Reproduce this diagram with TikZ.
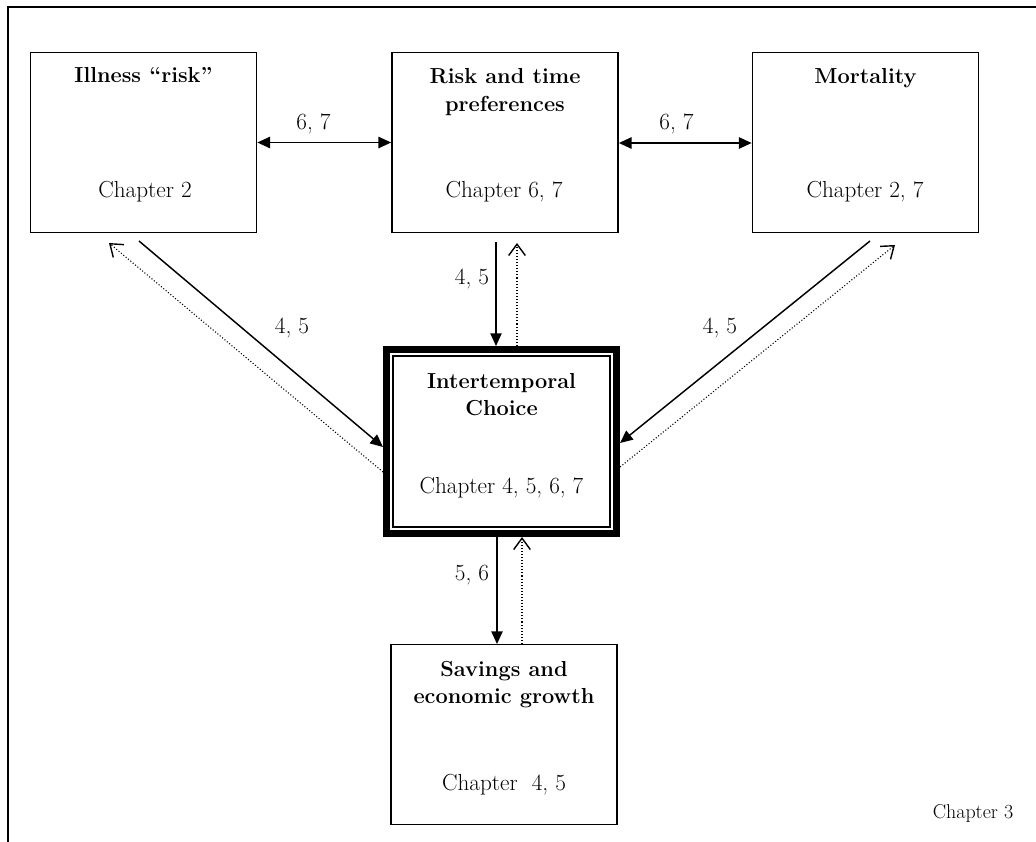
\documentclass[tikz,border=0pt]{standalone}
\usetikzlibrary{arrows.meta,calc}
\begin{document}
\begin{tikzpicture}[x=0.75pt,y=-0.75pt,
  box/.style={draw,line width=1.1pt,minimum width=169.7pt,minimum height=134.65pt,inner sep=0pt},
  bigbox/.style={draw,line width=5.5pt,minimum width=172.3pt,minimum height=137.8pt,inner sep=0pt},
  ttl/.style={font=\fontsize{16.3}{19}\selectfont\bfseries,anchor=base,inner sep=0pt},
  chp/.style={font=\fontsize{17.4}{20}\selectfont,anchor=base,inner sep=0pt},
  lbl/.style={font=\fontsize{17.4}{20}\selectfont,anchor=base,inner sep=0pt},
  solidarr/.style={line width=1.1pt,-{Triangle[length=9.5pt,width=8.5pt]}},
  solidboth/.style={line width=1.1pt,{Triangle[length=9.5pt,width=8.5pt]}-{Triangle[length=9.5pt,width=8.5pt]}},
  dotarr/.style={line width=0.8pt,dash pattern=on 0.8pt off 1.5pt,-{Straight Barb[length=8.5pt,width=12.5pt,line width=1.05pt]}},
]
\useasboundingbox (0,0) rectangle (1036,842);
% outer frame (top and left edges)
\draw[line width=1.2pt] (8,842) -- (8,7) -- (1036,7);

% boxes
\node[box] (ill) at (143.5,142.5) {};
\node[box] (risk) at (505,142.5) {};
\node[box] (mort) at (865.5,142.5) {};
\node[box] (sav) at (504,734.5) {};
\node[bigbox] (ic) at (501.5,441.5) {};
\draw[line width=1.2pt] ($(ic.north west)+(10,10)$) rectangle ($(ic.south east)+(-10,-10)$);

% texts
\node[ttl] (illT) at (143.5,83) {Illness “risk”};
\node[chp] (illC) at (145,197) {Chapter 2};
\node[ttl] (riskT1) at (505,84) {Risk and time};
\node[ttl] (riskT2) at (505,112) {preferences};
\node[chp] (riskC) at (504,197) {Chapter 6, 7};
\node[ttl] (mortT) at (865.5,84) {Mortality};
\node[chp] (mortC) at (865,197) {Chapter 2, 7};
\node[ttl] (icT1) at (501.5,388) {Intertemporal};
\node[ttl] (icT2) at (501.5,415) {Choice};
\node[chp] (icC) at (501.5,493) {Chapter 4, 5, 6, 7};
\node[ttl] (savT1) at (504,676) {Savings and};
\node[ttl] (savT2) at (504,703) {economic growth};
\node[chp] (savC) at (504,790) {Chapter\ \ 4, 5};
\node[anchor=base,inner sep=0pt,font=\fontsize{15}{18}\selectfont] (ch3) at (973,818) {Chapter 3};

% connectors
\coordinate (h1) at (0,142.5);
\draw[solidboth] (ill.east |- h1) -- (risk.west |- h1);
\coordinate (h2) at (0,143);
\draw[solidboth] (risk.east |- h2) -- (mort.west |- h2);

\coordinate (v1s) at (496,242);
\draw[solidarr] (v1s) -- (v1s |- ic.north);
\coordinate (v1d) at (517,243);
\draw[dotarr] (v1d |- ic.north) -- (v1d);

\coordinate (v2s) at (497,0);
\draw[solidarr] (v2s |- ic.south) -- (v2s |- sav.north);
\coordinate (v2d) at (522,0);
\draw[dotarr] (v2d |- sav.north) -- (v2d |- ic.south);

\coordinate (l1) at (139,241); \coordinate (l1e) at (0,447);
\draw[solidarr] (l1) -- (ic.west |- l1e);
\coordinate (l2) at (109,243); \coordinate (l2s) at (0,472);
\draw[dotarr] (ic.west |- l2s) -- (l2);

\coordinate (r1) at (870,241); \coordinate (r1e) at (0,443);
\draw[solidarr] (r1) -- (ic.east |- r1e);
\coordinate (r2) at (895,245); \coordinate (r2s) at (0,467);
\draw[dotarr] (ic.east |- r2s) -- (r2);

% connector labels
\node[lbl] (lab1) at (313.5,129) {6, 7};
\node[lbl] (lab2) at (676.5,129) {6, 7};
\node[lbl] (lab3) at (472,284) {4, 5};
\node[lbl] (lab4) at (292,333) {4, 5};
\node[lbl] (lab5) at (720,333) {4, 5};
\node[lbl] (lab6) at (472,580) {5, 6};
\end{tikzpicture}
\end{document}
